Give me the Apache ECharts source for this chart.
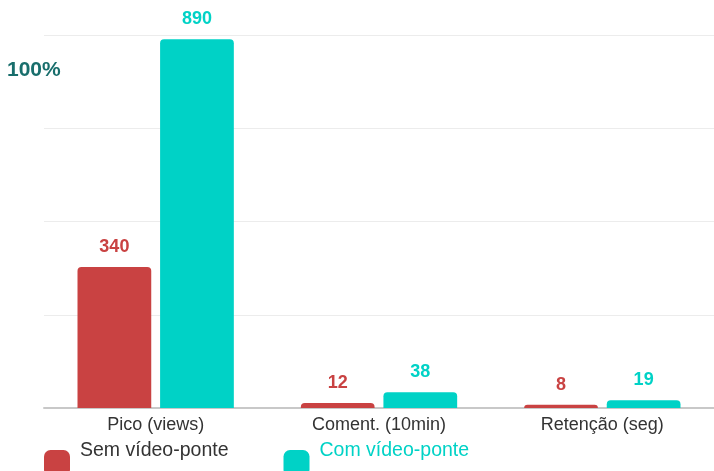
<!DOCTYPE html>
<html><head><meta charset="utf-8">
<script src="https://cdn.jsdelivr.net/npm/echarts@6/dist/echarts.min.js"></script>
<style>html,body{margin:0;padding:0;background:#fff}#c{width:714px;height:471px}</style>
</head><body><div id="c"></div>
<script>
var categories = ['Pico (views)', 'Coment. (10min)', 'Retenção (seg)'];
var semValues = [340, 12, 8];
var comValues = [890, 38, 19];
var seriesNames = ['Sem vídeo-ponte', 'Com vídeo-ponte'];
var RED = '#c94242', TEAL = '#00d2c6';
var FONT = '"Liberation Sans", Arial, sans-serif';
var chart = echarts.init(document.getElementById('c'));
function labelCfg(color){return {show:true,position:'top',distance:11,color:color,fontWeight:'bold',fontSize:18,fontFamily:FONT};}
chart.setOption({
  animation:false,
  textStyle:{fontFamily:FONT},
  grid:{left:44,right:0,top:35,bottom:63},
  xAxis:{type:'category',data:categories,axisTick:{show:false},
    axisLine:{lineStyle:{color:'#c8c8c8',width:2}},
    axisLabel:{color:'#333',fontSize:18,fontFamily:FONT,margin:8}},
  yAxis:{type:'value',min:0,max:900,interval:225,axisLabel:{show:false},
    splitLine:{lineStyle:{color:'#ececec',width:1}}},
  legend:{left:44,top:441,padding:0,itemWidth:26,itemHeight:26,itemGap:55,icon:'roundRect',
    formatter:'{a|{name}}',
    textStyle:{fontSize:19.5,fontFamily:FONT,color:'#333',
      rich:{a:{fontSize:19.5,fontFamily:FONT,padding:[0,0,24,5]}}},
    data:[{name:seriesNames[0],textStyle:{color:'#333'}},{name:seriesNames[1],textStyle:{color:TEAL}}]},
  graphic:[{type:'text',left:7,top:60,style:{text:'100%',fontSize:21,fontWeight:'bold',fill:'#186e6c',fontFamily:FONT}}],
  series:[
    {name:seriesNames[0],type:'bar',data:semValues,barGap:'12%',barCategoryGap:'30%',
     itemStyle:{color:RED,borderRadius:[4,4,0,0]},label:labelCfg(RED)},
    {name:seriesNames[1],type:'bar',data:comValues,
     itemStyle:{color:TEAL,borderRadius:[4,4,0,0]},label:labelCfg(TEAL)}
  ]
});
</script></body></html>
